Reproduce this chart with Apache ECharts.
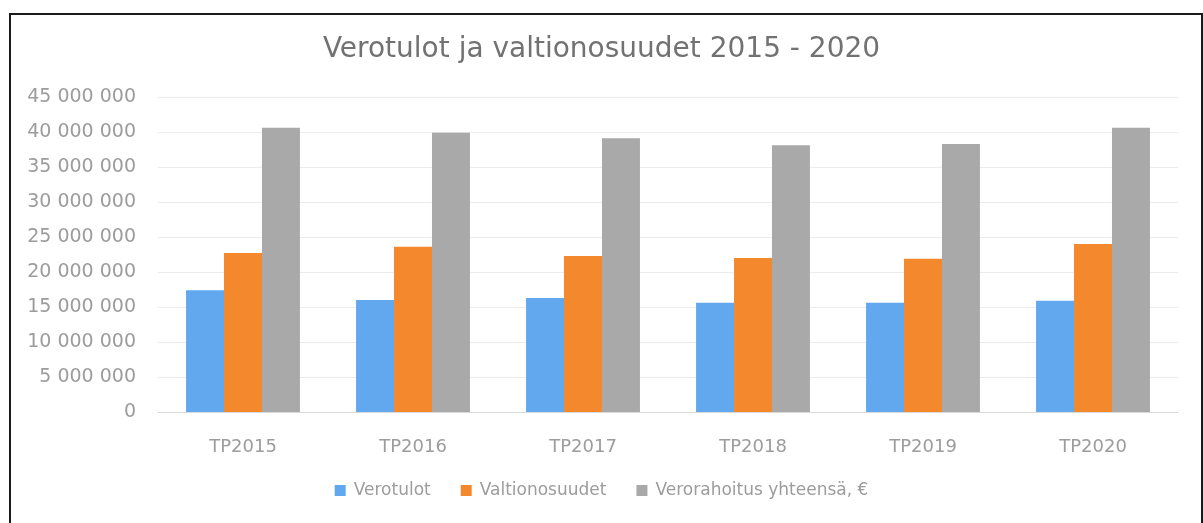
<!DOCTYPE html>
<html>
<head>
<meta charset="utf-8">
<script src="https://cdn.jsdelivr.net/npm/echarts@6/dist/echarts.min.js"></script>
<style>
  html, body { margin: 0; padding: 0; background: #fff; }
  #chart { width: 1203px; height: 523px; }
</style>
</head>
<body>
<div id="chart"></div>
<script>
// vuodet
const categories = ['TP2015', 'TP2016', 'TP2017', 'TP2018', 'TP2019', 'TP2020']
const verotulot = [17400000, 16000000, 16300000, 15600000, 15600000, 15900000]
const valtionosuudet = [22700000, 23600000, 22300000, 22000000, 21900000, 24000000]
const yhteensa = [40600000, 39900000, 39100000, 38100000, 38300000, 40600000]

const labelColor = '#9c9c9c'
const font = "'DejaVu Sans'"
const fmt = function (v) {
    return String(v).replace(/\B(?=(\d{3})+(?!\d))/g, ' ')
}

let myChart = echarts.init(document.getElementById('chart'))
myChart.setOption({
    animation: false,
    color: ['#62a8ef', '#f4882c', '#a9a9a9'],
    title: {
        text: 'Verotulot ja valtionosuudet 2015 - 2020',
        left: 'center',
        top: 31,
        textStyle: {
            fontFamily: font,
            fontWeight: 'normal',
            fontSize: 28,
            color: '#727272'
        }
    },
    graphic: [{
        type: 'rect',
        shape: { x: 10, y: 14, width: 1192, height: 520 },
        style: { fill: 'none', stroke: '#1a1a1a', lineWidth: 2 }
    }],
    legend: {
        bottom: 19,
        left: 'center',
        itemWidth: 11,
        itemHeight: 11,
        itemGap: 30,
        icon: 'rect',
        textStyle: { fontFamily: font, fontSize: 17, color: labelColor, padding: [0, 0, 0, 3] }
    },
    grid: {
        left: 158,
        right: 25,
        top: 97,
        bottom: 111
    },
    xAxis: {
        type: 'category',
        data: categories,
        axisTick: { show: false },
        axisLine: { lineStyle: { color: '#d9d9d9' } },
        axisLabel: {
            margin: 26,
            fontFamily: font,
            fontSize: 18,
            color: labelColor
        }
    },
    yAxis: {
        type: 'value',
        min: 0,
        max: 45000000,
        interval: 5000000,
        axisLine: { show: false },
        axisTick: { show: false },
        splitLine: { lineStyle: { color: '#ececec' } },
        axisLabel: {
            margin: 22,
            fontFamily: font,
            fontSize: 19,
            color: labelColor,
            formatter: fmt
        }
    },
    series: [
        { name: 'Verotulot', type: 'bar', data: verotulot, barGap: '0%', barCategoryGap: '33%' },
        { name: 'Valtionosuudet', type: 'bar', data: valtionosuudet, barGap: '0%', barCategoryGap: '33%' },
        { name: 'Verorahoitus yhteensä, €', type: 'bar', data: yhteensa, barGap: '0%', barCategoryGap: '33%' }
    ]
})
</script>
</body>
</html>
